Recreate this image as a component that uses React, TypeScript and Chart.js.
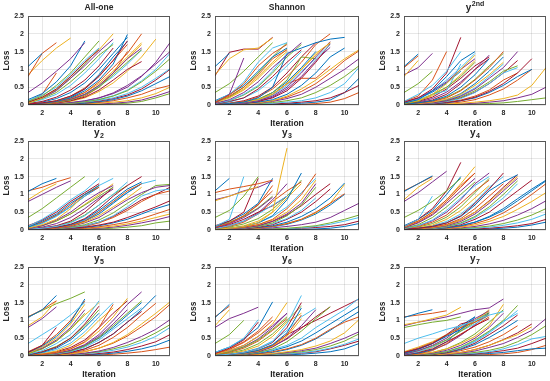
import React, { useEffect, useRef } from "react";
import { Chart, registerables } from "chart.js";

Chart.register(...registerables);

const COLORS = ["#0072BD", "#D95319", "#EDB120", "#7E2F8E", "#77AC30", "#4DBEEE", "#A2142F"];
const X_TICKS = [2, 4, 6, 8, 10];
const Y_TICKS = [0, 0.5, 1, 1.5, 2, 2.5];
const X_MIN = 1;
const X_MAX = 11;

// Each row is one curve: loss at iteration 1, 2, 3, ...
const allOne: number[][] = [
  [1.08, 1.45],
  [0.8, 1.45, 1.75],
  [0.85, 1.25, 1.6, 1.88],
  [0.35, 0.62, 0.95, 1.3, 1.75],
  [0.1, 0.25, 0.55, 0.9, 1.35, 1.8],
  [0.12, 0.28, 0.5, 0.85, 1.25, 1.6],
  [0.08, 0.22, 0.45, 0.8, 1.2, 1.55],
  [0.15, 0.32, 0.65, 1.1, 1.8],
  [0.1, 0.3, 0.9],
  [0.05, 0.2, 0.45, 0.8, 1.2, 1.55, 2.0],
  [0.08, 0.2, 0.4, 0.75, 1.1, 1.5, 1.85],
  [0.05, 0.18, 0.35, 0.65, 1.0, 1.4, 1.7],
  [0.06, 0.15, 0.3, 0.55, 0.9, 1.3, 1.75],
  [0.03, 0.06, 0.12, 0.25, 0.45, 0.8, 1.25, 1.8],
  [0.02, 0.05, 0.1, 0.2, 0.4, 0.7, 1.15, 1.98],
  [0.02, 0.04, 0.08, 0.18, 0.35, 0.65, 1.05, 1.45, 2.0],
  [0.03, 0.06, 0.1, 0.2, 0.35, 0.6, 0.95, 1.35, 1.75],
  [0.02, 0.05, 0.09, 0.16, 0.3, 0.55, 0.9, 1.3, 1.6],
  [0.01, 0.03, 0.07, 0.14, 0.28, 0.5, 0.85, 1.2, 1.55],
  [0.02, 0.04, 0.08, 0.15, 0.3, 0.52, 0.8, 1.15, 1.55],
  [0.01, 0.03, 0.06, 0.12, 0.22, 0.42, 0.7, 1.0, 1.22],
  [0.02, 0.05, 0.1, 0.22, 0.45, 0.85, 1.35, 1.78],
  [0.01, 0.03, 0.06, 0.12, 0.25, 0.5, 0.9, 1.5],
  [0.01, 0.03, 0.06, 0.1, 0.2, 0.38, 0.62, 0.95, 1.35, 1.85],
  [0.01, 0.02, 0.04, 0.07, 0.12, 0.2, 0.32, 0.5, 0.8, 1.2, 1.75],
  [0.01, 0.02, 0.03, 0.05, 0.09, 0.15, 0.25, 0.4, 0.65, 0.95, 1.3],
  [0.0, 0.01, 0.03, 0.05, 0.08, 0.13, 0.2, 0.32, 0.5, 0.75, 1.02],
  [0.0, 0.01, 0.02, 0.04, 0.07, 0.11, 0.18, 0.28, 0.45, 0.7, 1.0],
  [0.0, 0.01, 0.02, 0.03, 0.05, 0.09, 0.15, 0.25, 0.4, 0.6, 0.8],
  [0.0, 0.0, 0.01, 0.02, 0.04, 0.07, 0.12, 0.2, 0.3, 0.45, 0.55],
  [0.0, 0.0, 0.01, 0.02, 0.03, 0.05, 0.08, 0.12, 0.2, 0.32, 0.5],
  [0.0, 0.0, 0.0, 0.01, 0.02, 0.03, 0.05, 0.08, 0.14, 0.25, 0.38],
  [0.0, 0.0, 0.0, 0.0, 0.01, 0.02, 0.03, 0.05, 0.1, 0.2, 0.32],
  [0.01, 0.02, 0.03, 0.06, 0.1, 0.16, 0.26, 0.42, 0.68, 1.0, 1.45],
  [0.04, 0.1, 0.22, 0.42, 0.7, 1.1, 1.6],
  [0.03, 0.08, 0.18, 0.35, 0.62, 1.0, 1.45, 1.9],
  [0.02, 0.05, 0.12, 0.25, 0.48, 0.82, 1.25, 1.7],
  [0.01, 0.03, 0.07, 0.15, 0.3, 0.55, 0.9, 1.3, 1.7],
  [0.0, 0.01, 0.03, 0.06, 0.11, 0.2, 0.34, 0.55, 0.82, 1.15, 1.5],
  [0.07, 0.2, 0.42, 0.75, 1.15, 1.6],
];

const shannon: number[][] = [
  [1.08, 1.45],
  [0.08, 0.28, 0.6, 1.1, 1.45, 1.7],
  [0.85, 1.3, 1.55, 1.6, 1.88],
  [0.05, 0.3, 1.32],
  [0.35, 0.6, 0.95, 1.35, 1.75],
  [0.1, 0.3, 0.65, 1.2, 1.6, 1.75],
  [0.82, 1.48, 1.57, 1.57, 1.9],
  [0.12, 0.3, 0.55, 0.95, 1.35, 1.6],
  [0.1, 0.25, 0.5, 0.85, 1.3, 1.55],
  [0.06, 0.2, 0.42, 0.75, 1.15, 1.5],
  [0.05, 0.15, 0.35, 0.65, 1.05, 1.4, 1.75],
  [0.08, 0.22, 0.5, 0.9, 1.35, 1.75],
  [0.04, 0.12, 0.3, 0.55, 0.95, 1.45],
  [0.03, 0.1, 0.2, 0.45, 0.8, 1.2, 1.55],
  [0.02, 0.04, 0.08, 0.2, 0.5, 1.45, 1.6, 1.75, 1.85, 1.9],
  [0.02, 0.05, 0.1, 0.22, 0.45, 0.8, 1.2, 1.7, 2.0],
  [0.02, 0.04, 0.08, 0.15, 0.3, 0.6, 1.0, 1.45, 1.75],
  [0.01, 0.03, 0.06, 0.12, 0.25, 0.5, 0.9, 1.35, 1.78],
  [0.02, 0.04, 0.08, 0.16, 0.35, 0.7, 1.35, 1.3],
  [0.01, 0.03, 0.06, 0.12, 0.28, 0.55, 0.95, 1.3, 1.7],
  [0.01, 0.02, 0.05, 0.1, 0.2, 0.4, 0.75, 1.2, 1.72],
  [0.01, 0.02, 0.04, 0.08, 0.15, 0.3, 0.55, 0.9, 1.35, 1.6],
  [0.01, 0.02, 0.04, 0.1, 0.3, 0.6, 0.75, 0.75, 1.1],
  [0.0, 0.01, 0.03, 0.06, 0.12, 0.25, 0.45, 0.7, 1.0, 1.3, 1.55],
  [0.0, 0.01, 0.02, 0.05, 0.1, 0.18, 0.3, 0.5, 0.75, 1.0, 1.3],
  [0.0, 0.01, 0.02, 0.04, 0.07, 0.12, 0.2, 0.35, 0.55, 0.8, 1.1],
  [0.0, 0.0, 0.01, 0.03, 0.05, 0.08, 0.12, 0.2, 0.35, 0.6, 1.05],
  [0.0, 0.0, 0.01, 0.02, 0.03, 0.05, 0.08, 0.12, 0.2, 0.35, 0.55],
  [0.0, 0.0, 0.0, 0.01, 0.02, 0.03, 0.05, 0.08, 0.14, 0.35, 0.75],
  [0.0, 0.0, 0.0, 0.0, 0.01, 0.01, 0.02, 0.04, 0.08, 0.18, 0.35],
  [0.01, 0.03, 0.07, 0.15, 0.3, 0.6, 1.0, 1.4, 1.75],
  [0.01, 0.02, 0.05, 0.1, 0.22, 0.45, 0.8, 1.25, 1.62],
  [0.04, 0.12, 0.28, 0.52, 0.9, 1.35, 1.7],
  [0.03, 0.08, 0.2, 0.4, 0.72, 1.1, 1.5],
  [0.02, 0.05, 0.12, 0.25, 0.5, 0.9, 1.35, 1.75],
  [0.01, 0.03, 0.08, 0.16, 0.35, 0.65, 1.05, 1.5],
  [0.0, 0.01, 0.03, 0.06, 0.12, 0.22, 0.38, 0.6, 0.9, 1.25, 1.52],
  [0.07, 0.22, 0.45, 0.8, 1.2, 1.58],
];

const ySecond: number[][] = [
  [1.08, 1.43],
  [1.05, 1.38],
  [0.8, 1.25],
  [0.85, 1.05, 1.45],
  [0.35, 0.6, 0.95],
  [0.1, 0.3, 0.55, 0.95, 1.5],
  [0.08, 0.2, 0.45, 0.9, 1.9],
  [0.05, 0.15, 0.4, 0.8, 1.25, 1.5],
  [0.1, 0.25, 0.7, 1.5],
  [0.05, 0.12, 0.3, 0.6, 1.0, 1.4],
  [0.08, 0.2, 0.4, 0.65, 1.0, 1.3],
  [0.04, 0.1, 0.3, 0.5, 0.8, 1.2],
  [0.05, 0.15, 0.3, 0.4, 1.15],
  [0.03, 0.1, 0.22, 0.45, 0.75, 1.1, 1.35],
  [0.02, 0.06, 0.12, 0.25, 0.5, 0.85, 1.3],
  [0.02, 0.05, 0.1, 0.2, 0.4, 0.7, 1.05, 1.5],
  [0.01, 0.04, 0.08, 0.16, 0.3, 0.55, 0.85, 1.2],
  [0.01, 0.03, 0.06, 0.12, 0.25, 0.45, 0.75, 1.05, 1.5],
  [0.01, 0.03, 0.06, 0.12, 0.22, 0.4, 0.65, 0.95, 1.1],
  [0.01, 0.02, 0.05, 0.1, 0.18, 0.35, 0.6, 0.9, 1.05],
  [0.01, 0.02, 0.04, 0.07, 0.12, 0.22, 0.38, 0.6, 0.9, 1.3],
  [0.0, 0.02, 0.03, 0.06, 0.12, 0.2, 0.35, 0.55, 0.8, 1.0],
  [0.01, 0.02, 0.04, 0.08, 0.14, 0.25, 0.42, 0.7, 0.9],
  [0.0, 0.01, 0.02, 0.03, 0.05, 0.08, 0.12, 0.18, 0.28, 0.55, 1.05],
  [0.0, 0.0, 0.01, 0.02, 0.03, 0.05, 0.08, 0.12, 0.2, 0.3, 0.5],
  [0.0, 0.0, 0.0, 0.01, 0.02, 0.03, 0.04, 0.06, 0.1, 0.15, 0.2],
  [0.06, 0.18, 0.38, 0.7, 1.05, 1.45],
  [0.02, 0.06, 0.14, 0.3, 0.6, 1.0, 1.3],
  [0.01, 0.03, 0.07, 0.15, 0.32, 0.6, 0.95, 1.35],
  [0.0, 0.01, 0.02, 0.04, 0.08, 0.15, 0.28, 0.45, 0.7, 1.0],
  [0.04, 0.12, 0.26, 0.5, 0.85, 1.25],
  [0.03, 0.08, 0.18, 0.36, 0.65, 1.0, 1.4],
  [0.02, 0.05, 0.11, 0.22, 0.42, 0.72, 1.1, 1.45],
  [0.01, 0.03, 0.07, 0.14, 0.27, 0.48, 0.8, 1.15],
  [0.01, 0.02, 0.05, 0.1, 0.2, 0.36, 0.6, 0.9, 1.25],
  [0.06, 0.18, 0.36, 0.62, 0.95],
];

const y2: number[][] = [
  [1.08, 1.3, 1.45],
  [1.1, 1.2, 1.35, 1.47],
  [0.85, 1.1, 1.3],
  [0.8, 1.0, 1.2, 1.38],
  [0.35, 0.6, 0.9, 1.2, 1.5],
  [0.1, 0.3, 0.55, 0.85, 1.1, 1.45],
  [0.12, 0.28, 0.5, 0.8, 1.05, 1.3],
  [0.08, 0.25, 0.45, 0.75, 1.0, 1.25],
  [0.1, 0.22, 0.42, 0.7, 1.0, 1.2],
  [0.05, 0.15, 0.3, 0.6, 1.0, 1.25],
  [0.04, 0.12, 0.28, 0.5, 0.8, 1.05, 1.25],
  [0.05, 0.12, 0.25, 0.45, 0.7, 0.95, 1.2],
  [0.02, 0.05, 0.1, 0.2, 0.4, 0.7, 1.0, 1.35],
  [0.02, 0.04, 0.08, 0.16, 0.32, 0.6, 0.95, 1.25, 1.5],
  [0.02, 0.04, 0.08, 0.15, 0.3, 0.55, 0.85, 1.15, 1.35],
  [0.01, 0.03, 0.06, 0.12, 0.25, 0.5, 0.8, 1.1, 1.3],
  [0.01, 0.03, 0.06, 0.12, 0.22, 0.4, 0.65, 0.9, 1.2],
  [0.01, 0.02, 0.05, 0.1, 0.2, 0.35, 0.6, 0.85, 1.05, 1.2, 1.25],
  [0.01, 0.02, 0.04, 0.08, 0.15, 0.28, 0.48, 0.75, 1.0, 1.25, 1.28],
  [0.01, 0.02, 0.04, 0.07, 0.12, 0.22, 0.4, 0.65, 0.95, 1.1, 1.15],
  [0.0, 0.01, 0.03, 0.05, 0.08, 0.14, 0.22, 0.35, 0.5, 0.65, 0.82],
  [0.0, 0.01, 0.02, 0.04, 0.07, 0.12, 0.2, 0.3, 0.45, 0.6, 0.72],
  [0.0, 0.01, 0.02, 0.03, 0.05, 0.09, 0.15, 0.22, 0.32, 0.45, 0.58],
  [0.0, 0.0, 0.01, 0.02, 0.04, 0.07, 0.11, 0.17, 0.25, 0.35, 0.45],
  [0.0, 0.0, 0.01, 0.02, 0.03, 0.05, 0.08, 0.13, 0.2, 0.28, 0.38],
  [0.0, 0.0, 0.0, 0.01, 0.02, 0.03, 0.05, 0.08, 0.12, 0.2, 0.25],
  [0.06, 0.18, 0.38, 0.65, 0.95, 1.25, 1.45],
  [0.02, 0.06, 0.12, 0.25, 0.5, 0.85, 1.2],
  [0.01, 0.03, 0.06, 0.12, 0.25, 0.45, 0.75, 1.05, 1.3],
  [0.0, 0.01, 0.02, 0.05, 0.1, 0.2, 0.35, 0.55, 0.8, 1.0, 1.1],
  [0.04, 0.12, 0.25, 0.45, 0.72, 1.0, 1.3],
  [0.03, 0.08, 0.18, 0.35, 0.6, 0.9, 1.15],
  [0.02, 0.05, 0.11, 0.22, 0.42, 0.7, 1.0, 1.25],
  [0.01, 0.03, 0.07, 0.14, 0.28, 0.5, 0.78, 1.05, 1.3, 1.4],
  [0.0, 0.01, 0.03, 0.06, 0.12, 0.22, 0.38, 0.6, 0.85, 1.0, 1.2],
  [0.07, 0.2, 0.4, 0.65, 0.95, 1.2],
];

const y3: number[][] = [
  [1.1, 1.45],
  [1.05, 1.15, 1.22, 1.3, 1.4],
  [0.82, 0.95, 1.08, 1.22],
  [0.85, 0.95, 1.1, 1.2, 1.38],
  [0.35, 0.55, 0.95, 1.5],
  [0.1, 0.3, 1.5],
  [0.12, 0.25, 0.5, 1.45],
  [0.1, 0.25, 0.45, 0.75, 1.45],
  [0.08, 0.2, 0.4, 0.7, 1.25],
  [0.02, 0.05, 0.1, 0.2, 0.5, 2.3],
  [0.06, 0.18, 0.35, 0.6, 0.92],
  [0.1, 0.22, 0.38, 0.62, 0.95],
  [0.04, 0.12, 0.25, 0.45, 0.7, 0.95],
  [0.05, 0.15, 0.3, 0.5, 0.68, 0.95],
  [0.02, 0.05, 0.1, 0.2, 0.4, 0.85, 1.6],
  [0.02, 0.04, 0.08, 0.15, 0.3, 0.6, 1.0, 1.58],
  [0.01, 0.04, 0.08, 0.15, 0.28, 0.5, 0.85, 1.4],
  [0.01, 0.03, 0.06, 0.12, 0.25, 0.45, 0.75, 1.3],
  [0.01, 0.03, 0.06, 0.1, 0.2, 0.4, 0.7, 1.2],
  [0.01, 0.02, 0.05, 0.1, 0.18, 0.32, 0.55, 0.9],
  [0.01, 0.02, 0.04, 0.08, 0.15, 0.3, 0.5, 0.8, 1.15],
  [0.01, 0.02, 0.04, 0.07, 0.12, 0.22, 0.38, 0.6, 0.9, 1.32],
  [0.01, 0.02, 0.03, 0.06, 0.1, 0.18, 0.3, 0.5, 0.75, 1.02],
  [0.0, 0.01, 0.03, 0.05, 0.1, 0.18, 0.3, 0.48, 0.75, 1.28],
  [0.0, 0.01, 0.02, 0.04, 0.06, 0.1, 0.15, 0.22, 0.35, 0.55, 0.75],
  [0.0, 0.0, 0.01, 0.02, 0.03, 0.05, 0.08, 0.12, 0.2, 0.3, 0.42],
  [0.0, 0.0, 0.01, 0.02, 0.03, 0.04, 0.06, 0.1, 0.16, 0.25, 0.35],
  [0.0, 0.0, 0.0, 0.01, 0.02, 0.03, 0.05, 0.07, 0.1, 0.15, 0.25],
  [0.0, 0.0, 0.0, 0.0, 0.01, 0.01, 0.02, 0.03, 0.05, 0.1, 0.18],
  [0.03, 0.1, 0.22, 0.45, 0.8, 1.1, 1.35],
  [0.02, 0.05, 0.12, 0.25, 0.5, 0.9, 1.3],
  [0.04, 0.12, 0.25, 0.48, 0.85, 1.3],
  [0.03, 0.08, 0.17, 0.32, 0.58, 0.95, 1.4],
  [0.02, 0.05, 0.1, 0.2, 0.38, 0.65, 1.05, 1.45],
  [0.01, 0.03, 0.06, 0.12, 0.24, 0.42, 0.68, 1.0, 1.3],
  [0.0, 0.01, 0.03, 0.05, 0.09, 0.16, 0.28, 0.45, 0.7, 1.0],
  [0.06, 0.18, 0.4, 0.72, 1.1],
];

const y4: number[][] = [
  [1.08, 1.3, 1.52],
  [1.1, 1.3, 1.5],
  [0.85, 1.2, 1.45],
  [0.8, 1.05, 1.35, 1.65],
  [0.35, 0.55, 0.8, 1.1, 1.45],
  [0.1, 0.3, 0.95],
  [0.1, 0.3, 0.6, 1.1, 1.9],
  [0.12, 0.3, 0.55, 1.0, 1.5],
  [0.1, 0.25, 0.5, 0.85, 1.25, 1.6],
  [0.08, 0.25, 0.5, 0.85, 1.3, 1.78],
  [0.06, 0.2, 0.42, 0.75, 1.1, 1.45],
  [0.05, 0.15, 0.35, 0.65, 1.0, 1.35],
  [0.04, 0.12, 0.28, 0.55, 0.9, 1.25, 1.5],
  [0.02, 0.05, 0.1, 0.2, 0.4, 0.75, 1.15, 1.6],
  [0.02, 0.05, 0.1, 0.2, 0.38, 0.7, 1.1, 1.35, 1.55],
  [0.02, 0.04, 0.08, 0.16, 0.32, 0.6, 0.95, 1.3],
  [0.01, 0.03, 0.07, 0.14, 0.28, 0.5, 0.8, 1.15, 1.5],
  [0.01, 0.03, 0.06, 0.12, 0.24, 0.45, 0.75, 1.1, 1.45],
  [0.01, 0.02, 0.05, 0.1, 0.2, 0.38, 0.65, 1.0, 1.38],
  [0.01, 0.02, 0.04, 0.09, 0.18, 0.35, 0.6, 0.9, 1.3],
  [0.01, 0.02, 0.04, 0.08, 0.15, 0.3, 0.5, 0.8, 1.1, 1.4],
  [0.01, 0.02, 0.03, 0.06, 0.12, 0.22, 0.38, 0.6, 0.88, 1.15, 1.4],
  [0.0, 0.01, 0.03, 0.05, 0.1, 0.18, 0.3, 0.48, 0.72, 1.0, 1.3],
  [0.0, 0.01, 0.02, 0.04, 0.08, 0.14, 0.24, 0.38, 0.58, 0.8, 1.05],
  [0.0, 0.01, 0.02, 0.03, 0.06, 0.1, 0.17, 0.27, 0.42, 0.6, 0.82],
  [0.0, 0.0, 0.01, 0.02, 0.04, 0.07, 0.11, 0.18, 0.28, 0.42, 0.6],
  [0.0, 0.0, 0.01, 0.02, 0.03, 0.05, 0.08, 0.13, 0.2, 0.3, 0.45],
  [0.0, 0.0, 0.0, 0.01, 0.02, 0.03, 0.05, 0.08, 0.12, 0.18, 0.3],
  [0.0, 0.0, 0.0, 0.0, 0.01, 0.02, 0.03, 0.05, 0.08, 0.14, 0.22],
  [0.03, 0.1, 0.22, 0.42, 0.75, 1.1, 1.4],
  [0.02, 0.06, 0.14, 0.3, 0.55, 0.9, 1.25],
  [0.04, 0.12, 0.26, 0.5, 0.85, 1.3, 1.6],
  [0.03, 0.08, 0.18, 0.36, 0.65, 1.05, 1.45],
  [0.02, 0.05, 0.12, 0.24, 0.45, 0.78, 1.2, 1.5],
  [0.01, 0.03, 0.07, 0.14, 0.28, 0.5, 0.82, 1.2, 1.55],
  [0.0, 0.01, 0.03, 0.06, 0.12, 0.22, 0.36, 0.55, 0.82, 1.1, 1.38],
  [0.07, 0.22, 0.45, 0.8, 1.2, 1.6],
];

const y5: number[][] = [
  [1.08, 1.3, 1.7],
  [1.1, 1.3, 1.55],
  [0.85, 1.1, 1.55],
  [0.8, 1.05, 1.38],
  [1.1, 1.28, 1.47, 1.62, 1.8],
  [0.35, 0.6, 0.85, 1.15, 1.5],
  [0.1, 0.3, 0.8],
  [0.1, 0.28, 0.55, 0.95, 1.6],
  [0.12, 0.3, 0.6, 1.0, 1.55],
  [0.08, 0.25, 0.5, 0.9, 1.45],
  [0.1, 0.22, 0.45, 0.8, 1.3],
  [0.06, 0.2, 0.42, 0.75, 1.2],
  [0.05, 0.15, 0.35, 0.6, 1.0, 1.55],
  [0.04, 0.12, 0.25, 0.5, 0.9, 1.4],
  [0.03, 0.1, 0.22, 0.45, 0.8, 1.2],
  [0.02, 0.05, 0.1, 0.2, 0.4, 0.8, 1.45],
  [0.02, 0.05, 0.1, 0.2, 0.38, 0.7, 1.1, 1.62],
  [0.02, 0.04, 0.08, 0.16, 0.32, 0.6, 1.0, 1.45, 1.8],
  [0.01, 0.03, 0.07, 0.14, 0.28, 0.52, 0.85, 1.2, 1.55],
  [0.01, 0.03, 0.06, 0.12, 0.25, 0.45, 0.75, 1.05, 1.35],
  [0.01, 0.02, 0.05, 0.1, 0.2, 0.38, 0.62, 0.95, 1.25],
  [0.01, 0.02, 0.05, 0.1, 0.2, 0.38, 0.62, 0.95, 1.3, 1.7],
  [0.01, 0.02, 0.04, 0.08, 0.16, 0.3, 0.52, 0.8, 1.15, 1.48],
  [0.01, 0.02, 0.03, 0.06, 0.12, 0.22, 0.38, 0.6, 0.9, 1.2, 1.52],
  [0.0, 0.01, 0.02, 0.04, 0.08, 0.14, 0.24, 0.38, 0.55, 0.75, 1.02],
  [0.0, 0.01, 0.02, 0.04, 0.07, 0.12, 0.2, 0.3, 0.45, 0.65, 0.88],
  [0.0, 0.01, 0.02, 0.03, 0.06, 0.1, 0.16, 0.25, 0.38, 0.55, 0.8],
  [0.0, 0.0, 0.01, 0.02, 0.04, 0.07, 0.11, 0.18, 0.28, 0.4, 0.6],
  [0.0, 0.0, 0.01, 0.02, 0.03, 0.05, 0.08, 0.13, 0.2, 0.3, 0.45],
  [0.0, 0.0, 0.0, 0.01, 0.02, 0.03, 0.05, 0.08, 0.12, 0.18, 0.25],
  [0.02, 0.06, 0.14, 0.3, 0.6, 1.0, 1.35],
  [0.01, 0.03, 0.07, 0.15, 0.3, 0.55, 0.9, 1.3],
  [0.04, 0.12, 0.27, 0.5, 0.85, 1.3],
  [0.03, 0.08, 0.18, 0.36, 0.68, 1.1, 1.5],
  [0.02, 0.05, 0.12, 0.24, 0.45, 0.8, 1.2, 1.55],
  [0.01, 0.03, 0.07, 0.14, 0.28, 0.5, 0.8, 1.15, 1.5],
  [0.0, 0.01, 0.03, 0.06, 0.12, 0.22, 0.36, 0.56, 0.82, 1.1, 1.45],
  [0.07, 0.2, 0.42, 0.75, 1.15, 1.5],
];

const y6: number[][] = [
  [1.08, 1.45],
  [1.1, 1.4],
  [0.85, 1.3],
  [0.8, 1.05, 1.2, 1.37],
  [0.35, 0.6, 1.0],
  [0.1, 0.25, 0.5, 1.02],
  [0.08, 0.22, 0.45, 0.95],
  [0.1, 0.25, 0.48, 0.8, 1.52],
  [0.06, 0.2, 0.4, 0.7, 1.1],
  [0.05, 0.15, 0.3, 0.55, 0.9, 1.5],
  [0.05, 0.15, 0.3, 0.55, 0.85, 1.2],
  [0.04, 0.12, 0.25, 0.45, 0.75, 1.1],
  [0.02, 0.05, 0.1, 0.2, 0.4, 0.9, 1.7],
  [0.02, 0.05, 0.1, 0.2, 0.38, 0.8, 1.5],
  [0.02, 0.04, 0.08, 0.16, 0.32, 0.65, 1.35],
  [0.01, 0.04, 0.08, 0.15, 0.3, 0.6, 1.15],
  [0.01, 0.03, 0.07, 0.14, 0.28, 0.55, 1.05],
  [0.01, 0.03, 0.06, 0.12, 0.25, 0.5, 0.85, 1.3],
  [0.01, 0.02, 0.05, 0.1, 0.2, 0.4, 0.7, 1.05, 1.38],
  [0.01, 0.02, 0.05, 0.1, 0.18, 0.3, 0.5, 0.8, 1.05, 1.3, 1.62],
  [0.01, 0.02, 0.04, 0.1, 0.3, 0.6, 0.8, 1.0, 1.2, 1.4, 1.6],
  [0.01, 0.02, 0.04, 0.08, 0.15, 0.26, 0.42, 0.65, 0.9, 1.15, 1.4],
  [0.0, 0.01, 0.03, 0.06, 0.12, 0.2, 0.32, 0.5, 0.75, 0.95, 1.1],
  [0.0, 0.01, 0.02, 0.04, 0.07, 0.12, 0.18, 0.28, 0.42, 0.65, 1.02],
  [0.0, 0.01, 0.02, 0.03, 0.06, 0.1, 0.15, 0.22, 0.35, 0.5, 0.68],
  [0.0, 0.0, 0.01, 0.03, 0.05, 0.08, 0.12, 0.18, 0.28, 0.42, 0.62],
  [0.0, 0.0, 0.01, 0.02, 0.04, 0.06, 0.09, 0.14, 0.22, 0.33, 0.48],
  [0.0, 0.0, 0.01, 0.02, 0.03, 0.05, 0.08, 0.12, 0.2, 0.3, 0.42],
  [0.0, 0.0, 0.0, 0.01, 0.02, 0.03, 0.05, 0.08, 0.12, 0.2, 0.35],
  [0.03, 0.1, 0.22, 0.42, 0.72, 1.05],
  [0.02, 0.06, 0.14, 0.28, 0.55, 0.95, 1.2],
  [0.04, 0.12, 0.26, 0.48, 0.8, 1.2],
  [0.03, 0.08, 0.17, 0.34, 0.62, 1.0, 1.4],
  [0.02, 0.05, 0.11, 0.22, 0.42, 0.72, 1.1, 1.35],
  [0.01, 0.03, 0.07, 0.14, 0.27, 0.48, 0.78, 1.1, 1.38],
  [0.0, 0.01, 0.03, 0.06, 0.1, 0.18, 0.3, 0.48, 0.72, 1.0, 1.25],
  [0.06, 0.18, 0.38, 0.65, 1.0],
];

const y7: number[][] = [
  [1.08, 1.2, 1.3],
  [1.1, 1.15, 1.2, 1.27],
  [0.88, 0.95, 1.05, 1.15, 1.37],
  [0.85, 0.95, 1.02, 1.1, 1.2, 1.3, 1.35, 1.6],
  [0.8, 0.88, 0.95, 1.0, 1.1],
  [0.35, 0.5, 0.62, 0.75, 0.85, 1.0, 1.15, 1.25],
  [0.1, 0.2, 0.35, 0.6, 0.9, 1.0],
  [0.08, 0.2, 0.35, 0.55, 0.75, 1.1],
  [0.1, 0.22, 0.38, 0.58, 0.8, 0.95, 1.15],
  [0.12, 0.25, 0.4, 0.6, 0.8, 1.0, 1.25],
  [0.05, 0.15, 0.3, 0.5, 0.8, 1.05, 1.27],
  [0.06, 0.15, 0.28, 0.45, 0.7, 0.95, 1.2],
  [0.05, 0.12, 0.25, 0.45, 0.7, 0.9, 1.15],
  [0.04, 0.1, 0.2, 0.4, 0.6, 0.85, 1.05],
  [0.03, 0.08, 0.18, 0.4, 0.75, 1.0, 1.22],
  [0.02, 0.06, 0.15, 0.35, 0.62, 0.85, 1.1],
  [0.02, 0.05, 0.1, 0.2, 0.35, 0.55, 0.85, 1.45],
  [0.02, 0.04, 0.08, 0.16, 0.3, 0.5, 0.8, 1.2],
  [0.01, 0.03, 0.06, 0.12, 0.25, 0.45, 0.7, 1.0, 1.42],
  [0.01, 0.03, 0.06, 0.12, 0.22, 0.4, 0.65, 0.95, 1.28],
  [0.01, 0.03, 0.05, 0.1, 0.2, 0.36, 0.6, 0.85, 1.15],
  [0.01, 0.02, 0.05, 0.09, 0.18, 0.32, 0.52, 0.75, 1.0],
  [0.01, 0.02, 0.04, 0.08, 0.15, 0.25, 0.4, 0.6, 0.85],
  [0.01, 0.02, 0.03, 0.06, 0.1, 0.18, 0.3, 0.45, 0.6, 0.82],
  [0.0, 0.01, 0.02, 0.04, 0.08, 0.14, 0.24, 0.35, 0.52, 0.72, 1.05],
  [0.0, 0.01, 0.02, 0.04, 0.06, 0.1, 0.16, 0.25, 0.4, 0.6, 0.85],
  [0.0, 0.01, 0.02, 0.03, 0.05, 0.08, 0.12, 0.2, 0.32, 0.48, 0.55],
  [0.0, 0.0, 0.01, 0.02, 0.04, 0.06, 0.1, 0.15, 0.22, 0.35, 0.5],
  [0.0, 0.0, 0.01, 0.02, 0.03, 0.05, 0.07, 0.1, 0.15, 0.2, 0.22],
  [0.0, 0.0, 0.0, 0.01, 0.02, 0.03, 0.04, 0.06, 0.1, 0.18, 0.3],
  [0.04, 0.11, 0.24, 0.45, 0.72, 1.0, 1.3],
  [0.03, 0.08, 0.17, 0.33, 0.58, 0.88, 1.2],
  [0.02, 0.05, 0.1, 0.2, 0.38, 0.62, 0.95, 1.3],
  [0.01, 0.03, 0.06, 0.12, 0.24, 0.42, 0.68, 0.98, 1.2],
  [0.0, 0.01, 0.02, 0.05, 0.1, 0.18, 0.3, 0.46, 0.65, 0.9],
  [0.07, 0.18, 0.35, 0.58, 0.85, 1.1],
];

const TITLES = ["All-one", "Shannon", "y", "y", "y", "y", "y", "y", "y"];
const TITLE_SUPS = ["", "", "2nd", "", "", "", "", "", ""];
const TITLE_SUBS = ["", "", "", "2", "3", "4", "5", "6", "7"];
const SERIES = [allOne, shannon, ySecond, y2, y3, y4, y5, y6, y7];
const X_LABEL = "Iteration";
const Y_LABEL = "Loss";

// layout (pixel geometry of the 3x3 grid of plot areas)
const COL_X = [[28, 170], [215, 359], [404, 546]];
const ROW_Y = [[16, 105], [141, 230], [267, 356]];
const LEFT_SPACE = 28;
const TOP_SPACE = 16;
const RIGHT_SPACE = 6;
const BOTTOM_SPACE = 26;
const FONT = '"Liberation Sans", Arial, Helvetica, sans-serif';
const TEXT_COLOR = "#262626";

function Panel({ index }: { index: number }) {
  const ref = useRef<HTMLCanvasElement | null>(null);
  const col = index % 3;
  const row = Math.floor(index / 3);
  const [x0, x1] = COL_X[col];
  const [y0, y1] = ROW_Y[row];
  const width = x1 - x0 + LEFT_SPACE + RIGHT_SPACE;
  const height = y1 - y0 + TOP_SPACE + BOTTOM_SPACE;

  useEffect(() => {
    const canvas = ref.current;
    if (!canvas) return;
    const lines = SERIES[index];
    const decor = {
      id: "decor" + index,
      afterDraw(chart: any) {
        const ctx = chart.ctx;
        const a = chart.chartArea;
        ctx.save();
        ctx.strokeStyle = "rgba(38,38,38,0.75)";
        ctx.lineWidth = 1;
        ctx.strokeRect(Math.round(a.left) + 0.5, Math.round(a.top) + 0.5, Math.round(a.right - a.left) - 1, Math.round(a.bottom - a.top) - 1);
        ctx.fillStyle = TEXT_COLOR;
        const main = TITLES[index];
        const sup = TITLE_SUPS[index];
        const sub = TITLE_SUBS[index];
        const cx = (a.left + a.right) / 2;
        const ty = a.top - 8;
        ctx.textBaseline = "middle";
        ctx.textAlign = "left";
        const mainFont = "bold " + (sup || sub ? 10 : 8.5) + "px " + FONT;
        const smallFont = "bold 7px " + FONT;
        ctx.font = mainFont;
        const wMain = ctx.measureText(main).width;
        ctx.font = smallFont;
        const extra = sup || sub;
        const wExtra = extra ? ctx.measureText(extra).width + 0.5 : 0;
        const startX = cx - (wMain + wExtra) / 2;
        ctx.font = mainFont;
        ctx.fillText(main, startX, ty);
        if (extra) {
          ctx.font = smallFont;
          ctx.fillText(extra, startX + wMain + 0.5, sup ? ty - 3.5 : ty + 3);
        }
        ctx.font = "bold 8.5px " + FONT;
        ctx.textAlign = "center";
        ctx.fillText(X_LABEL, cx, a.bottom + 19);
        ctx.save();
        ctx.translate(a.left - 21, (a.top + a.bottom) / 2);
        ctx.rotate(-Math.PI / 2);
        ctx.fillText(Y_LABEL, 0, 0);
        ctx.restore();
        ctx.restore();
      },
    };
    const tickFont = { family: FONT, size: 7, weight: "bold" as const };
    const chart = new Chart(canvas, {
      type: "line",
      data: {
        datasets: lines.map((vals, i) => ({
          data: vals.map((v, j) => ({ x: X_MIN + j, y: v })),
          borderColor: COLORS[i % COLORS.length],
          backgroundColor: COLORS[i % COLORS.length],
          borderWidth: 1,
          pointRadius: 0,
          fill: false,
          tension: 0,
        })),
      },
      options: {
        animation: false,
        responsive: false,
        maintainAspectRatio: false,
        events: [],
        layout: { padding: { left: 0, top: TOP_SPACE, right: RIGHT_SPACE, bottom: 0 } },
        plugins: { legend: { display: false }, tooltip: { enabled: false }, title: { display: false } },
        scales: {
          x: {
            type: "linear",
            min: X_MIN,
            max: X_MAX,
            afterBuildTicks: (s: any) => {
              s.ticks = X_TICKS.map((v) => ({ value: v }));
            },
            afterFit: (s: any) => {
              s.height = BOTTOM_SPACE;
            },
            grid: { color: "rgba(0,0,0,0.12)", lineWidth: 0.8, drawTicks: false },
            border: { display: false },
            ticks: { font: tickFont, color: TEXT_COLOR, padding: 4, maxRotation: 0, autoSkip: false, callback: (v: any) => String(v) },
          },
          y: {
            type: "linear",
            min: 0,
            max: 2.5,
            afterBuildTicks: (s: any) => {
              s.ticks = Y_TICKS.map((v) => ({ value: v }));
            },
            afterFit: (s: any) => {
              s.width = LEFT_SPACE;
            },
            grid: { color: "rgba(0,0,0,0.12)", lineWidth: 0.8, drawTicks: false },
            border: { display: false },
            ticks: { font: tickFont, color: TEXT_COLOR, padding: 4, autoSkip: false, callback: (v: any) => String(v) },
          },
        },
      },
      plugins: [decor],
    });
    return () => chart.destroy();
  }, [index]);

  return (
    <canvas
      ref={ref}
      width={width}
      height={height}
      style={{ position: "absolute", left: x0 - LEFT_SPACE, top: y0 - TOP_SPACE, width, height }}
    />
  );
}

export default function App() {
  return (
    <div
      style={{
        position: "absolute",
        left: 0,
        top: 0,
        width: 550,
        height: 381,
        overflow: "hidden",
        background: "#ffffff",
      }}
    >
      {SERIES.map((_, i) => (
        <Panel key={i} index={i} />
      ))}
    </div>
  );
}
